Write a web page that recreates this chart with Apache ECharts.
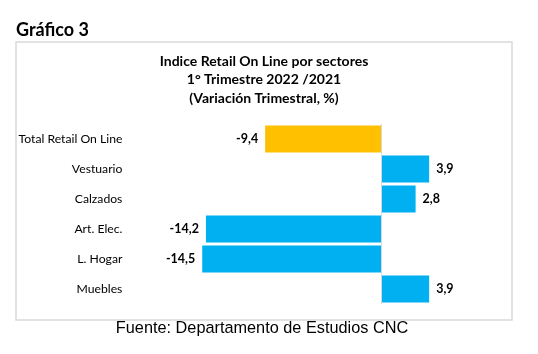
<!DOCTYPE html>
<html>
<head>
<meta charset="utf-8">
<script src="https://cdn.jsdelivr.net/npm/echarts@6/dist/echarts.min.js"></script>
<style>
  html, body { margin: 0; padding: 0; background: #fff; }
  #chart { width: 538px; height: 354px; }
</style>
</head>
<body>
<div id="chart"></div>
<script>
  // datos del gráfico
  var sectores = ['Total Retail On Line', 'Vestuario', 'Calzados', 'Art. Elec.', 'L. Hogar', 'Muebles'];
  var variacion = [-9.4, 3.9, 2.8, -14.2, -14.5, 3.9];
  var titulo = ['Indice Retail On Line por sectores', '1° Trimestre 2022 /2021', '(Variación Trimestral, %)'];

  var azul = '#00B0F0';
  var amarillo = '#FFC000';

  var chart = echarts.init(document.getElementById('chart'));

  var barras = variacion.map(function (v, i) {
    return {
      value: v,
      itemStyle: { color: i === 0 ? amarillo : azul },
      label: { position: v < 0 ? 'left' : 'right' }
    };
  });

  chart.setOption({
    animation: false,
    textStyle: { fontFamily: 'Lato' },
    graphic: [
      {
        type: 'rect',
        shape: { x: 16, y: 42, width: 496, height: 278 },
        style: { fill: 'none', stroke: '#d9d9d9', lineWidth: 1.5 },
        silent: true
      },
      {
        type: 'text', left: 16, top: 21,
        style: { text: 'Gráfico 3', font: 'bold 18px Lato', fill: '#000' }
      },
      {
        type: 'text', x: 264, y: 52,
        style: {
          text: titulo.join('\n'), font: 'bold 14px Lato', fill: '#000',
          align: 'center', lineHeight: 18.5
        }
      },
      {
        type: 'text', x: 262, y: 321,
        style: {
          text: 'Fuente: Departamento de Estudios CNC', font: '16.3px "Liberation Sans"',
          fill: '#000', align: 'center'
        }
      }
    ],
    grid: { left: 134.4, right: 33.6, top: 124, bottom: 50 },
    xAxis: {
      type: 'value',
      min: -20, max: 10,
      show: false
    },
    yAxis: {
      type: 'category',
      data: sectores,
      inverse: true,
      axisLine: { show: false, onZero: false },
      axisTick: { show: false },
      axisLabel: { color: '#000', fontSize: 12.2, margin: 12 }
    },
    series: [{
      type: 'bar',
      data: barras,
      barWidth: '90%',
      label: {
        show: true, fontWeight: 'bold', fontSize: 12.5, color: '#000', distance: 7,
        formatter: function (p) { return p.value.toFixed(1).replace('.', ','); }
      },
      markLine: {
        silent: true,
        symbol: 'none',
        label: { show: false },
        lineStyle: { color: '#d9d9d9', type: 'solid', width: 1 },
        data: [{ xAxis: 0 }]
      }
    }]
  });
</script>
</body>
</html>
